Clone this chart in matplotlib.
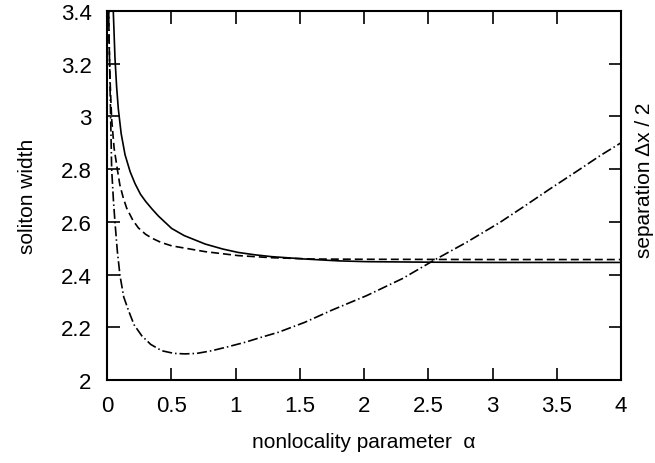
import matplotlib.pyplot as plt
import numpy as np

plt.rcParams['font.family'] = ['Liberation Sans', 'DejaVu Sans']

# solid curve
alpha_solid = [0.042, 0.049, 0.062, 0.075, 0.088, 0.11, 0.14, 0.18, 0.218, 0.26, 0.3, 0.348, 0.4,
               0.503, 0.6, 0.763, 0.9, 1.02, 1.15, 1.28, 1.54, 1.8, 2.02, 2.5, 3.0, 4.0]
width_solid = [3.5, 3.395, 3.22, 3.11, 3.028, 2.935, 2.855, 2.79, 2.745, 2.705, 2.678, 2.65, 2.622,
               2.575, 2.548, 2.516, 2.497, 2.484, 2.475, 2.468, 2.459, 2.452, 2.449, 2.447, 2.446, 2.446]

# dashed curve
alpha_dashed = [0.012, 0.016, 0.025, 0.036, 0.055, 0.08, 0.1, 0.127, 0.153, 0.2, 0.244, 0.3,
                0.35, 0.42, 0.503, 0.763, 1.02, 1.28, 1.6, 2.0, 3.0, 4.0]
width_dashed = [3.45, 3.28, 3.12, 2.99, 2.88, 2.80, 2.74, 2.69, 2.652, 2.607, 2.577, 2.553,
                2.538, 2.522, 2.509, 2.487, 2.472, 2.464, 2.459, 2.458, 2.457, 2.457]

# dash-dot curve (separation)
alpha_sep = [0.01, 0.02, 0.028, 0.036, 0.05, 0.062, 0.08, 0.101, 0.13, 0.166, 0.21, 0.27,
             0.34, 0.426, 0.52, 0.607, 0.7, 0.815, 0.94, 1.074, 1.2, 1.333, 1.54, 1.75,
             2.02, 2.3, 2.54, 2.8, 3.058, 3.25, 3.447, 3.65, 3.837, 4.0]
sep = [3.45, 3.2, 3.0, 2.80, 2.68, 2.598, 2.49, 2.396, 2.315, 2.265, 2.21, 2.168,
       2.135, 2.111, 2.101, 2.099, 2.101, 2.111, 2.126, 2.143, 2.162, 2.181, 2.219, 2.265,
       2.32, 2.385, 2.453, 2.523, 2.598, 2.66, 2.725, 2.79, 2.851, 2.9]

tick_size = 16
label_size = 15

fig = plt.figure(figsize=(6.55, 4.64), dpi=100)
ax = fig.add_axes([0.1634, 0.1789, 0.7847, 0.7952])

ax.plot(alpha_solid, width_solid, color='black', lw=1.2, ls='-')
ax.plot(alpha_dashed, width_dashed, color='black', lw=1.2, ls=(0, (4.8, 2.4)))
ax.plot(alpha_sep, sep, color='black', lw=1.2, ls=(0, (6, 1.8, 0.9, 1.8)))

ax.set_xlim(0, 4)
ax.set_ylim(2, 3.4)
ax.set_xticks(np.arange(0, 4.01, 0.5))
ax.set_xticklabels(['0', '0.5', '1', '1.5', '2', '2.5', '3', '3.5', '4'])
ax.set_yticks(np.arange(2, 3.41, 0.2))
ax.set_yticklabels(['2', '2.2', '2.4', '2.6', '2.8', '3', '3.2', '3.4'])
ax.tick_params(direction='in', length=9, width=1.2, top=True, right=True,
               labelsize=tick_size, pad=11)
for s in ax.spines.values():
    s.set_linewidth(1.5)

ax.set_xlabel('nonlocality parameter  α', fontsize=label_size, labelpad=11)
ax.set_ylabel('soliton width', fontsize=label_size)
ax.yaxis.set_label_coords(-0.136, 0.5)
fig.text(635 / 655, 1 - 103 / 464, 'separation Δx / 2', rotation=90, ha='left', va='top',
         fontsize=label_size)

plt.savefig('out.png', dpi=100)
